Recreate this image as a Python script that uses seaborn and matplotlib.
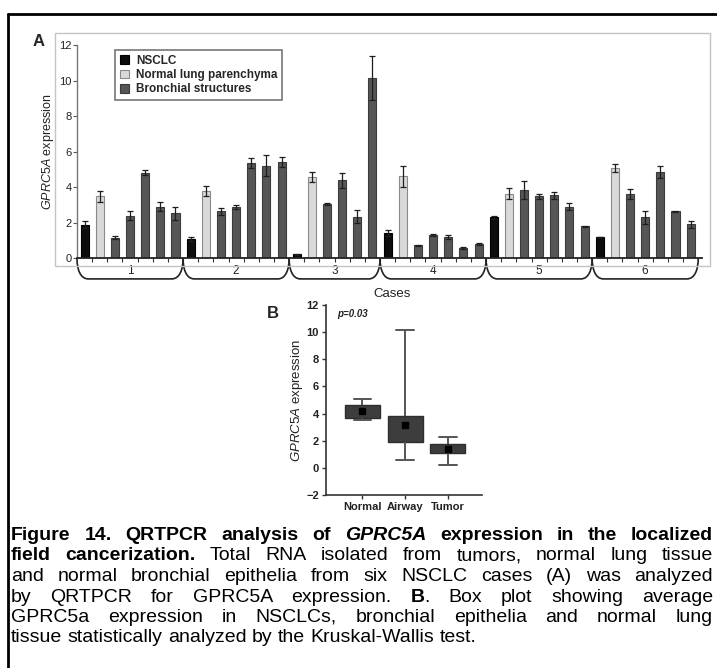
import numpy as np
import pandas as pd
import matplotlib
matplotlib.use("Agg")
import matplotlib.pyplot as plt
import seaborn as sns
from matplotlib.patches import Patch, Rectangle, PathPatch
from matplotlib.path import Path
from matplotlib.lines import Line2D

# ---------------- data ----------------
cases = ["1", "2", "3", "4", "5", "6"]
nsclc = [1.89, 1.09, 0.23, 1.42, 2.30, 1.19]
nsclc_err = [0.20, 0.10, 0.03, 0.15, 0.10, 0.0]
normal = [3.49, 3.81, 4.57, 4.62, 3.64, 5.09]
normal_err = [0.30, 0.28, 0.28, 0.60, 0.30, 0.22]
bronchial = [
    [1.17, 2.40, 4.81, 2.89, 2.53],
    [2.64, 2.89, 5.34, 5.21, 5.42],
    [3.06, 4.38, 2.34, 10.15],
    [0.74, 1.30, 1.21, 0.58, 0.81],
    [3.83, 3.49, 3.55, 2.89, 1.79],
    [3.64, 2.30, 4.87, 2.64, 1.92],
]
bronchial_err = [
    [0.10, 0.25, 0.15, 0.25, 0.35],
    [0.20, 0.10, 0.28, 0.60, 0.30],
    [0.05, 0.40, 0.35, 1.25],
    [0.03, 0.05, 0.10, 0.05, 0.06],
    [0.50, 0.15, 0.20, 0.20, 0.03],
    [0.28, 0.38, 0.34, 0.04, 0.20],
]
type_labels = ["NSCLC", "Normal lung parenchyma", "Bronchial structures"]
box_groups = ["Normal", "Airway", "Tumor"]
p_text = "p=0.03"

caption_lines = [
    [("Figure 14. QRTPCR analysis of ", "bold", "normal"), ("GPRC5A", "bold", "italic"),
     (" expression in the localized", "bold", "normal")],
    [("field cancerization.", "bold", "normal"),
     (" Total RNA isolated from tumors, normal lung tissue", "normal", "normal")],
    [("and normal bronchial epithelia from six NSCLC cases (A) was analyzed", "normal", "normal")],
    [("by QRTPCR for GPRC5A expression. ", "normal", "normal"), ("B", "bold", "normal"),
     (". Box plot showing average", "normal", "normal")],
    [("GPRC5a expression in NSCLCs, bronchial epithelia and normal lung", "normal", "normal")],
    [("tissue statistically analyzed by the Kruskal-Wallis test.", "normal", "normal")],
]

# ---------------- style ----------------
sns.set_theme(style="white")
plt.rcParams["font.family"] = ["Liberation Sans", "DejaVu Sans"]
plt.rcParams["mathtext.fontset"] = "custom"
plt.rcParams["mathtext.rm"] = "Liberation Sans"
plt.rcParams["mathtext.it"] = "Liberation Sans:italic"
plt.rcParams["mathtext.bf"] = "Liberation Sans:bold"

CAP_SIZE = 14

W, H = 717, 668
fig = plt.figure(figsize=(W / 100, H / 100), dpi=100)
fig.patch.set_facecolor("white")


def fx(x):
    return x / W


def fy(y):
    return 1 - y / H


# ---------------- long table for panel A ----------------
rows = []
pos = 0
group_bounds = []
for i, c in enumerate(cases):
    start = pos
    rows.append((pos, c, type_labels[0], nsclc[i], nsclc_err[i])); pos += 1
    rows.append((pos, c, type_labels[1], normal[i], normal_err[i])); pos += 1
    for v, e in zip(bronchial[i], bronchial_err[i]):
        rows.append((pos, c, type_labels[2], v, e)); pos += 1
    group_bounds.append((start - 0.5, pos - 0.5))
dfA = pd.DataFrame(rows, columns=["pos", "case", "type", "value", "err"])

face = {type_labels[0]: "#0d0d0d", type_labels[1]: "#d9d9d9", type_labels[2]: "#565656"}
edge = {type_labels[0]: "#000000", type_labels[1]: "#8a8a8a", type_labels[2]: "#3c3c3c"}

axA = fig.add_axes([fx(77), fy(258.3), 625 / W, 213.3 / H])
sns.barplot(data=dfA, x="pos", y="value", hue="type", hue_order=type_labels,
            palette=face, native_scale=True, width=0.53, dodge=False,
            errorbar=None, saturation=1, legend=False, ax=axA, linewidth=0.8)
for cont, lvl in zip(axA.containers, type_labels):
    for b in cont:
        b.set_edgecolor(edge[lvl])
axA.errorbar(dfA["pos"], dfA["value"], yerr=dfA["err"], fmt="none",
             ecolor="#1e1e1e", elinewidth=0.9, capsize=2, capthick=0.9, zorder=4)

axA.set_xlim(-0.5, 40.75)
axA.set_ylim(0, 12)
axA.set_yticks(np.arange(0, 13, 2))
axA.set_xticks(np.arange(0.5, pos - 1, 1))
axA.set_xticklabels([])
axA.tick_params(axis="x", direction="out", length=3, width=0.8, color="#333333", bottom=True)
axA.tick_params(axis="y", direction="out", length=3, width=0.8, color="#555555", left=True,
                labelsize=8, labelcolor="#222222", pad=1)
for s in ["top", "right"]:
    axA.spines[s].set_visible(False)
axA.spines["left"].set_color("#777777")
axA.spines["left"].set_linewidth(1.0)
axA.spines["bottom"].set_color("#222222")
axA.spines["bottom"].set_linewidth(1.3)
axA.set_xlabel("")
axA.set_ylabel(r"$\mathit{GPRC5A}$ expression", fontsize=9, color="#222222", labelpad=2)

# braces under each case
ybot = -1.16
r = 0.75
for (a, b), c in zip(group_bounds, cases):
    verts = [(a, 0), (a, ybot * 0.55), (a + r * 0.3, ybot), (a + r, ybot),
             (b - r, ybot),
             (b - r * 0.3, ybot), (b, ybot * 0.55), (b, 0)]
    codes = [Path.MOVETO, Path.CURVE4, Path.CURVE4, Path.CURVE4,
             Path.LINETO, Path.CURVE4, Path.CURVE4, Path.CURVE4]
    axA.add_patch(PathPatch(Path(verts, codes), fill=False, lw=1.2,
                            edgecolor="#222222", clip_on=False))
    axA.text((a + b) / 2, -0.72, c, ha="center", va="center", fontsize=8.5,
             color="#222222", clip_on=False)
axA.text(20.3, -2.0, "Cases", ha="center", va="center", fontsize=9.5,
         color="#222222", clip_on=False)

handles = [Patch(facecolor=face[t], edgecolor=edge[t], linewidth=0.8) for t in type_labels]
leg = axA.legend(handles, type_labels, loc="upper left", bbox_to_anchor=(0.061, 0.977),
                 borderaxespad=0, prop={"weight": "bold", "size": 8.5},
                 handlelength=0.75, handleheight=0.75, handletextpad=0.6,
                 labelspacing=0.2, borderpad=0.4, fancybox=False, frameon=True)
leg.get_frame().set_edgecolor("#555555")
leg.get_frame().set_linewidth(1.2)

# ---------------- panel B ----------------
dfB = pd.DataFrame({
    "group": [box_groups[0]] * len(normal)
             + [box_groups[1]] * sum(len(b) for b in bronchial)
             + [box_groups[2]] * len(nsclc),
    "value": list(normal) + [v for b in bronchial for v in b] + list(nsclc),
})
axB = fig.add_axes([fx(326), fy(495), 156 / W, 190 / H])
sns.boxplot(data=dfB, x="group", y="value", order=box_groups, whis=(0, 100),
            width=0.82, color="#3d3d3d", saturation=1, linecolor="#2e2e2e", linewidth=1.0,
            showmeans=True,
            meanprops=dict(marker="s", markerfacecolor="black", markeredgecolor="black",
                           markersize=4.5),
            medianprops=dict(color="#3d3d3d", linewidth=0),
            whiskerprops=dict(color="#555555", linewidth=1.4),
            capprops=dict(color="#555555", linewidth=1.4),
            ax=axB)
axB.set_xlim(-0.85, 2.8)
axB.set_ylim(-2, 12)
axB.set_yticks(np.arange(-2, 13, 2))
for s in ["top", "right"]:
    axB.spines[s].set_visible(False)
for s in ["left", "bottom"]:
    axB.spines[s].set_color("#333333")
    axB.spines[s].set_linewidth(1.2)
axB.tick_params(axis="both", direction="out", length=3, width=1, color="#333333",
                left=True, bottom=True, labelsize=8, pad=2)
for t in axB.get_xticklabels() + axB.get_yticklabels():
    t.set_fontweight("bold")
    t.set_color("#222222")
axB.set_xlabel("")
axB.set_ylabel(r"$\mathit{GPRC5A}$ expression", fontsize=9.5, color="#222222", labelpad=1)
axB.text(0.07, 0.955, p_text, transform=axB.transAxes, fontsize=7, fontweight="bold",
         fontstyle="italic", ha="left", va="center", color="#222222")

# ---------------- frames and panel letters ----------------
fig.add_artist(Rectangle((fx(55), fy(266)), (710 - 55) / W, (266 - 33) / H,
                         transform=fig.transFigure, fill=False, edgecolor="#c4c4c4", lw=1.0))
fig.add_artist(Line2D([fx(8), fx(717)], [fy(14), fy(14)], transform=fig.transFigure,
                      color="black", lw=2))
fig.add_artist(Line2D([fx(8), fx(8)], [fy(14), fy(668)], transform=fig.transFigure,
                      color="black", lw=2))
fig.text(fx(38.5), fy(41), "A", fontsize=12, fontweight="bold", ha="center", va="center")
fig.text(fx(273), fy(313), "B", fontsize=12, fontweight="bold", ha="center", va="center")

# ---------------- justified caption ----------------
renderer = fig.canvas.get_renderer()


def make_text(s, weight, style):
    return fig.text(0, 0, s, fontsize=CAP_SIZE, fontweight=weight, fontstyle=style,
                    ha="left", va="baseline", color="black")


def measure(s, weight="normal", style="normal"):
    t = make_text(s, weight, style)
    w = t.get_window_extent(renderer).width
    t.remove()
    return w


space_w = measure("a a") - measure("aa")


def draw_line(segments, ybase, x0, x1, justify=True):
    words, cur = [], []
    for text, weight, style in segments:
        for ch in text:
            if ch == " ":
                if cur:
                    words.append(cur)
                    cur = []
            else:
                if cur and cur[-1][1] == weight and cur[-1][2] == style:
                    cur[-1][0] += ch
                else:
                    cur.append([ch, weight, style])
    if cur:
        words.append(cur)
    items_all = []
    for w in words:
        items = []
        for t, wt, st in w:
            txt = make_text(t, wt, st)
            items.append((txt, txt.get_window_extent(renderer).width))
        items_all.append(items)
    widths = [sum(wd for _, wd in it) for it in items_all]
    if justify and len(words) > 1:
        gap = max((x1 - x0 - sum(widths)) / (len(words) - 1), 0.6 * space_w)
    else:
        gap = space_w
    x = x0
    for it, wsum in zip(items_all, widths):
        xx = x
        for txt, wd in it:
            txt.set_position((fx(xx), fy(ybase)))
            xx += wd
        x += wsum + gap


baselines = [540, 560.5, 581, 601.5, 622, 642.5]
for k, (segs, yb) in enumerate(zip(caption_lines, baselines)):
    draw_line(segs, yb, 11, 713, justify=(k < len(caption_lines) - 1))

fig.savefig("out.png", dpi=100, facecolor="white")
